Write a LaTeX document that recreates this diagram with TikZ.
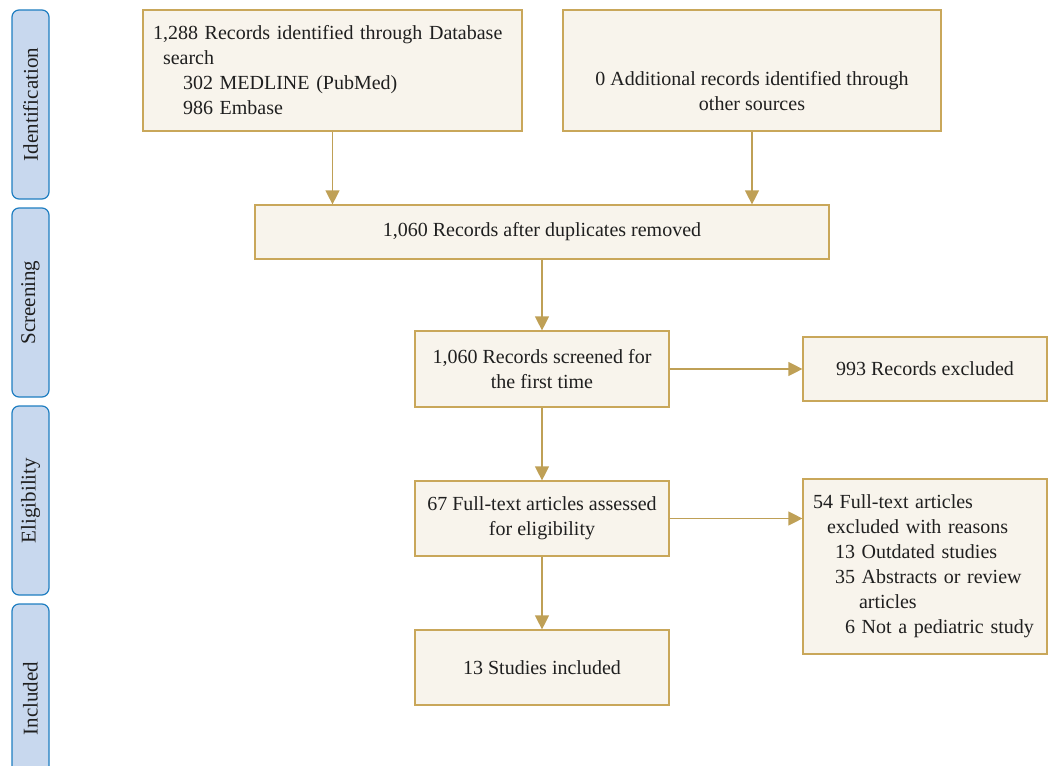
\documentclass[tikz,border=0pt]{standalone}
\usepackage{fontspec}
\setmainfont{Liberation Serif}
\usetikzlibrary{arrows.meta}
\definecolor{boxfill}{HTML}{F8F4EC}
\definecolor{boxline}{HTML}{C9A75A}
\definecolor{arrowline}{HTML}{BFA056}
\definecolor{phasefill}{HTML}{C8D8EE}
\definecolor{phaseline}{HTML}{1F7EC1}
\tikzset{
    flowbox/.style={draw=boxline, fill=boxfill, line width=1.2pt, inner sep=0pt,
        font=\fontsize{20}{25}\selectfont, text=black!88},
    phase/.style={draw=phaseline, fill=phasefill, line width=1.2pt, rounded corners=7pt,
        minimum height=37pt, inner sep=0pt, rotate=90,
        font=\fontsize{21}{22}\selectfont, text=black!88},
    flow/.style={draw=arrowline, line width=1.2pt, -{Triangle[length=14pt,width=14pt]}}
}
\begin{document}
\begin{tikzpicture}[x=1pt, y=-1pt]
    \clip (0,0) rectangle (1048,765);
    % phases
    \node[phase, minimum width=189pt] (ident) at (30.5,104.5) {Identification};
    \node[phase, minimum width=189pt] (screen) at (30.5,302.5) {Screening};
    \node[phase, minimum width=189pt] (elig) at (30.5,500.5) {Eligibility};
    \node[phase, minimum width=189pt] (incl) at (30.5,698.5) {Included};
    % boxes
    \node[flowbox, text width=359pt, inner xsep=10pt, minimum height=121pt, align=left] (database) at (332.5,70.5)
        {1,288 Records identified through Database\\
         \hspace*{10pt}search\\
         \hspace*{30pt}302 MEDLINE (PubMed)\\
         \hspace*{30pt}986 Embase};
    \node[flowbox, minimum width=378pt, minimum height=121pt, align=center] (other) at (752,70.5)
        {\mbox{}\\[31pt]0 Additional records identified through\\ other sources};
    \node[flowbox, minimum width=574pt, minimum height=54pt] (dupl) at (542,232)
        {1,060 Records after duplicates removed};
    \node[flowbox, minimum width=254pt, minimum height=76pt, align=center] (screened) at (542,369)
        {1,060 Records screened for\\ the first time};
    \node[flowbox, minimum width=244pt, minimum height=64pt] (excl) at (925,369)
        {993 Records excluded};
    \node[flowbox, minimum width=254pt, minimum height=75pt, align=center] (fulltext) at (542,518.5)
        {67 Full-text articles assessed\\ for eligibility};
    \node[flowbox, text width=224pt, inner xsep=10pt, minimum height=175pt, align=left] (reasons) at (925,566.5)
        {54 Full-text articles\\
         \hspace*{14pt}excluded with reasons\\
         \hspace*{22pt}13 Outdated studies\\
         \hspace*{22pt}35 Abstracts or review\\
         \hspace*{46pt}articles\\
         \hspace*{32pt}6 Not a pediatric study};
    \node[flowbox, minimum width=254pt, minimum height=75pt] (included) at (542,667.5)
        {13 Studies included};
    % arrows
    \draw[flow] (database.south) -- (database.south |- dupl.north);
    \draw[flow] (other.south) -- (other.south |- dupl.north);
    \draw[flow] (dupl) -- (screened);
    \draw[flow] (screened) -- (excl);
    \draw[flow] (screened) -- (fulltext);
    \draw[flow] (fulltext) -- (fulltext -| reasons.west);
    \draw[flow] (fulltext) -- (included);
\end{tikzpicture}
\end{document}
